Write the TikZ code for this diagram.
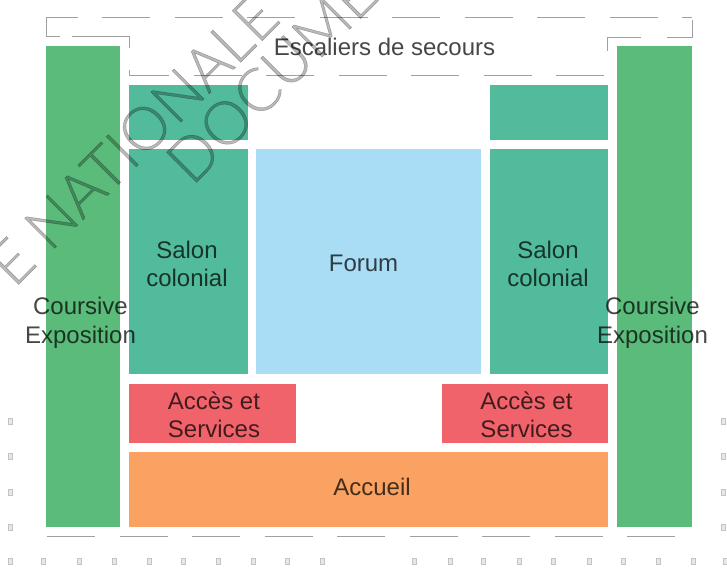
\documentclass[tikz,border=0pt]{standalone}
\usepackage{fontspec}
\setmainfont{Liberation Sans}
\newfontfamily\markfont[FakeBold=0.8]{Lato Light}
\definecolor{coursive}{HTML}{5BBB7B}
\definecolor{salon}{HTML}{52BB9C}
\definecolor{forum}{HTML}{A8DDF5}
\definecolor{acces}{HTML}{F0636B}
\definecolor{accueil}{HTML}{F9A262}
\definecolor{dashgrey}{HTML}{A0A0A0}
\definecolor{tickgrey}{HTML}{C4C4C4}
\tikzset{
  room/.style={inner sep=0pt},
  label/.style={inner sep=0pt,align=center,text opacity=0.72,text=black,font=\fontsize{24}{28.5}\selectfont},
  outline/.style={draw=dashgrey,line width=0.9pt,dash pattern=on 48pt off 24.5pt},
  stub/.style={draw=dashgrey,line width=0.9pt},
  tick/.style={draw=tickgrey,fill=tickgrey!40,line width=0.7pt},
  stamp/.style={inner sep=0pt,rotate=45,anchor=base west,text=black,text opacity=0.27,font=\markfont\fontsize{60}{60}\selectfont}
}

\begin{document}
\begin{tikzpicture}[x=1pt,y=-1pt]
  \useasboundingbox (0,0) rectangle (727,567);

  %% Rooms of the floor
  \node[room,fill=coursive,minimum width=74pt,minimum height=481pt] (COURSL) at (83,286.5) {};
  \node[room,fill=coursive,minimum width=75pt,minimum height=481pt] (COURSR) at (654.5,286.5) {};
  \node[room,fill=salon,minimum width=119pt,minimum height=55pt] (TOPL) at (188.5,112.5) {};
  \node[room,fill=salon,minimum width=118pt,minimum height=55pt] (TOPR) at (549,112.5) {};
  \node[room,fill=salon,minimum width=119pt,minimum height=225pt] (SALONL) at (188.5,261.5) {};
  \node[room,fill=salon,minimum width=118pt,minimum height=225pt] (SALONR) at (549,261.5) {};
  \node[room,fill=forum,minimum width=225pt,minimum height=225pt] (FORUM) at (368.5,261.5) {};
  \node[room,fill=acces,minimum width=167pt,minimum height=59pt] (ACCESL) at (212.5,413.5) {};
  \node[room,fill=acces,minimum width=166pt,minimum height=59pt] (ACCESR) at (525,413.5) {};
  \node[room,fill=accueil,minimum width=479pt,minimum height=75pt] (ACCUEIL) at (368.5,489.5) {};

  %% Labels
  \node[label] (SALONLTXT) at (187,264) {Salon\\colonial};
  \node[label] (SALONRTXT) at (548,264) {Salon\\colonial};
  \node[label] (FORUMTXT) at (363.5,263) {Forum};
  \node[label] (ACCESLTXT) at (214,415) {Accès et\\Services};
  \node[label] (ACCESRTXT) at (526.5,415) {Accès et\\Services};
  \node[label] (ACCUEILTXT) at (372,487) {Accueil};
  \node[label] (EXPOL) at (80.5,323) {Coursive\\Exposition};
  \node[label] (EXPOR) at (652.5,323) {Coursive\\Exposition};
  \node[label] (ESCALIERS) at (384.5,47) {Escaliers de secours};

  %% Dashed outlines, top and bottom
  \draw[outline,dash phase=16.5pt] (46,17) -- (692,17);
  \draw[stub] (60,36) -- (46,36) -- (46,17);
  \draw[stub] (72,36) -- (129,36) -- (129,48);
  \draw[stub] (129,70) -- (129,75);
  \draw[outline,dash phase=8pt] (129,75) -- (611,75);
  \draw[stub] (607,51) -- (607,37) -- (641,37);
  \draw[stub] (667,37) -- (692,37) -- (692,20);
  \draw[outline] (47,536) -- (685,536);

  %% Small marks along the edges
  \foreach \x in {10,43,79,114,149,183,218,253,287,322,414,450,483,519,553,589,623,658,693,725}
  {
    \path[tick] (\x-2,558.5) rectangle (\x+2,564);
  }
  \foreach \y in {421,456,492,527}
  {
    \path[tick] (8,\y-3) rectangle (12,\y+3);
    \path[tick] (721,\y-3) rectangle (725,\y+3);
  }

  %% Stamp across the picture
  \node[stamp] (STAMPA) at (14,289) {E NATIONALE};
  \node[stamp] (STAMPB) at (192,187) {DOCUME};
\end{tikzpicture}
\end{document}
